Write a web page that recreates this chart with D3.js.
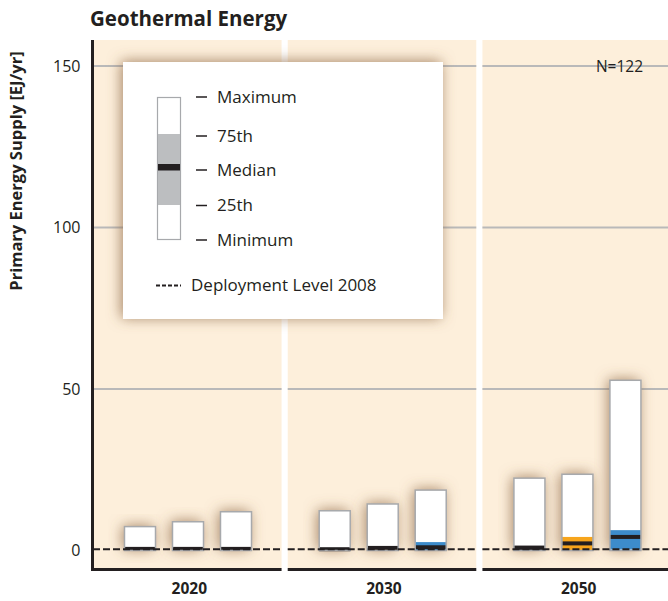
<!DOCTYPE html>
<html>
<head>
<meta charset="utf-8">
<script src="https://cdn.jsdelivr.net/npm/d3@7"></script>
<style>
 body { margin: 0; background: #fff; }
 text { font-family: 'Open Sans', sans-serif; fill: #231f20; }
</style>
</head>
<body>
<svg width="668" height="601"></svg>
<script>
'use strict';
//..........Data................
const years = ['2020', '2030', '2050'];
const categories = ['Baselines', 'Cat III + IV', 'Cat I + II'];
const maxVals    = [[7.4, 8.9, 12.0], [12.3, 14.4, 18.7], [22.4, 23.6, 52.7]];
const q75Vals    = [[0.8, 0.8, 0.8], [0.7, 1.2, 2.6], [1.4, 4.2, 6.3]];
const medianVals = [[0.5, 0.5, 0.5], [0.4, 0.8, 1.0], [0.9, 2.2, 4.2]];
const q25Vals    = [[0.0, 0.0, 0.0], [0.0, 0.0, 0.1], [0.0, 0.1, 0.3]];
const minVals    = [[0.0, 0.0, 0.0], [0.0, 0.0, 0.0], [0.0, 0.0, 0.0]];
const deployment2008 = 0.4;
const yTicks = [0, 50, 100, 150];
const legendLabels = ['Maximum', '75th', 'Median', '25th', 'Minimum'];
const sampleSize = 'N=122';

//..........Styles................
const boxColor = ['#231f20', '#f7a51c', '#3d8ccb'];
const dark = '#231f20';

const svg = d3.select('svg');

// shadow filter
const defs = svg.append('defs');
const shadow = defs.append('filter').attr('id', 'shadow')
    .attr('x', '-50%').attr('y', '-50%').attr('width', '200%').attr('height', '200%');
shadow.append('feDropShadow')
    .attr('dx', -2).attr('dy', -1)
    .attr('stdDeviation', 7)
    .attr('flood-color', '#8a6440')
    .attr('flood-opacity', 0.75);

//..........Scales................
const plotTop = 40, plotBottom = 568;
const y = d3.scaleLinear().domain([0, 150]).range([550.5, 66]);
const xPanel = d3.scaleBand().domain(years).range([93, 671]).paddingInner(0.0315);
const xBar = d3.scaleBand().domain(categories)
    .range([23, 167]).paddingInner(0.354).paddingOuter(0.177);

//..........Panels................
const panels = svg.selectAll('g.panel').data(years).join('g')
    .attr('class', 'panel')
    .attr('transform', d => `translate(${xPanel(d)} 0)`);

panels.append('rect')
    .attr('y', plotTop)
    .attr('width', xPanel.bandwidth())
    .attr('height', plotBottom - plotTop)
    .attr('fill', '#fdefdb');

panels.selectAll('line.grid').data(yTicks.filter(t => t > 0)).join('line')
    .attr('class', 'grid')
    .attr('x1', 0).attr('x2', xPanel.bandwidth())
    .attr('y1', d => y(d)).attr('y2', d => y(d))
    .attr('stroke', '#b9b9b9').attr('stroke-width', 2);

// bottom axis segment
panels.append('line')
    .attr('x1', 0).attr('x2', xPanel.bandwidth())
    .attr('y1', plotBottom + 1.5).attr('y2', plotBottom + 1.5)
    .attr('stroke', dark).attr('stroke-width', 3);

// year labels
panels.append('text')
    .attr('x', xPanel.bandwidth() / 2 + 2)
    .attr('y', 594)
    .attr('text-anchor', 'middle')
    .attr('font-size', 15.5)
    .attr('font-weight', 'bold')
    .text(d => d);

//..........Bars................
panels.each(function (year, i) {
  const g = d3.select(this);
  const bars = g.selectAll('g.bar').data(categories).join('g')
      .attr('class', 'bar')
      .attr('transform', d => `translate(${xBar(d)} 0)`);

  bars.append('rect')
      .attr('width', xBar.bandwidth())
      .attr('y', (d, j) => y(maxVals[i][j]))
      .attr('height', (d, j) => y(minVals[i][j]) - y(maxVals[i][j]))
      .attr('fill', '#fff')
      .attr('filter', 'url(#shadow)');

  bars.append('rect')
      .attr('width', xBar.bandwidth())
      .attr('y', (d, j) => y(q75Vals[i][j]))
      .attr('height', (d, j) => y(q25Vals[i][j]) - y(q75Vals[i][j]))
      .attr('fill', (d, j) => boxColor[j]);

  bars.append('rect')
      .attr('width', xBar.bandwidth())
      .attr('y', (d, j) => y(medianVals[i][j]) - 2)
      .attr('height', 4)
      .attr('fill', dark);

  bars.append('rect')
      .attr('width', xBar.bandwidth())
      .attr('y', (d, j) => y(maxVals[i][j]))
      .attr('height', (d, j) => y(minVals[i][j]) - y(maxVals[i][j]))
      .attr('fill', 'none')
      .attr('stroke', '#a7a9ac')
      .attr('stroke-width', 1.5);

  // deployment level 2008
  g.append('line')
      .attr('x1', 0).attr('x2', xPanel.bandwidth())
      .attr('y1', y(deployment2008)).attr('y2', y(deployment2008))
      .attr('stroke', dark).attr('stroke-width', 2)
      .attr('stroke-dasharray', '7,3');
});

//..........Y axis................
const yAxis = svg.append('g')
    .attr('transform', 'translate(92.5 0)')
    .call(d3.axisLeft(y).tickValues(yTicks).tickSize(0).tickPadding(12));
yAxis.select('.domain').remove();
yAxis.selectAll('text')
    .attr('font-size', 16)
    .attr('font-family', "'Open Sans', sans-serif")
    .attr('fill', dark);
svg.append('line')
    .attr('x1', 92.5).attr('x2', 92.5)
    .attr('y1', plotTop).attr('y2', plotBottom + 3)
    .attr('stroke', dark).attr('stroke-width', 3);

svg.append('text')
    .attr('transform', 'translate(22 171) rotate(-90)')
    .attr('text-anchor', 'middle')
    .attr('font-size', 16.5)
    .attr('font-weight', 'bold')
    .text('Primary Energy Supply [EJ/yr]');

svg.append('text')
    .attr('x', 90).attr('y', 26)
    .attr('font-size', 20.5)
    .attr('font-weight', 'bold')
    .text('Geothermal Energy');

svg.append('text')
    .attr('x', 643).attr('y', y(150) + 6)
    .attr('text-anchor', 'end')
    .attr('font-size', 15.5)
    .text(sampleSize);

//..........Legend................
const legend = svg.append('g').attr('transform', 'translate(123 62)');
legend.append('rect')
    .attr('width', 320).attr('height', 257)
    .attr('fill', '#fff')
    .attr('filter', 'url(#shadow)');
legend.append('rect')
    .attr('x', 34.5).attr('y', 35.5).attr('width', 23).attr('height', 142)
    .attr('fill', '#fff').attr('stroke', '#a7a9ac').attr('stroke-width', 1.2);
legend.append('rect')
    .attr('x', 35).attr('y', 72).attr('width', 22).attr('height', 71)
    .attr('fill', '#bcbec0');
legend.append('rect')
    .attr('x', 35).attr('y', 102).attr('width', 22).attr('height', 6.5)
    .attr('fill', dark);

const legendY = [35, 74, 108, 143.5, 178];
const items = legend.selectAll('g.item').data(legendLabels).join('g')
    .attr('class', 'item')
    .attr('transform', (d, i) => `translate(0 ${legendY[i]})`);
items.append('line')
    .attr('x1', 73).attr('x2', 84)
    .attr('stroke', dark).attr('stroke-width', 1.5);
items.append('text')
    .attr('x', 94).attr('dy', '0.35em')
    .attr('font-size', 17)
    .text(d => d);

legend.append('line')
    .attr('x1', 33).attr('x2', 58)
    .attr('y1', 223.5).attr('y2', 223.5)
    .attr('stroke', dark).attr('stroke-width', 2)
    .attr('stroke-dasharray', '4,2');
legend.append('text')
    .attr('x', 68).attr('y', 223.5).attr('dy', '0.35em')
    .attr('font-size', 17)
    .text('Deployment Level 2008');
</script>
</body>
</html>
